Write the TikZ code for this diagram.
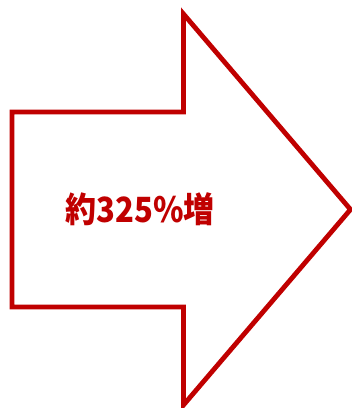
\documentclass[tikz,border=0pt]{standalone}
\usepackage{fontspec}
\newfontfamily\cjk{Noto Sans CJK JP}
\definecolor{arrowred}{HTML}{C00000}
\begin{document}
\begin{tikzpicture}[x=1pt,y=1pt,
  arrowshape/.style={draw=arrowred,line width=4.8pt,line join=miter,fill=white},
  label/.style={text=arrowred,font=\cjk\bfseries\fontsize{31}{31}\selectfont,inner sep=0pt}]
\useasboundingbox (0,0) rectangle (352,408);
\draw[arrowshape] (12,296) -- (183.5,296) -- (183.5,394) -- (350.5,198.5) -- (183.5,3) -- (183.5,101) -- (12,101) -- cycle;
\node[label] (t) at (140,199) {\scalebox{1}[1.12]{約325\%増}};
\end{tikzpicture}
\end{document}
